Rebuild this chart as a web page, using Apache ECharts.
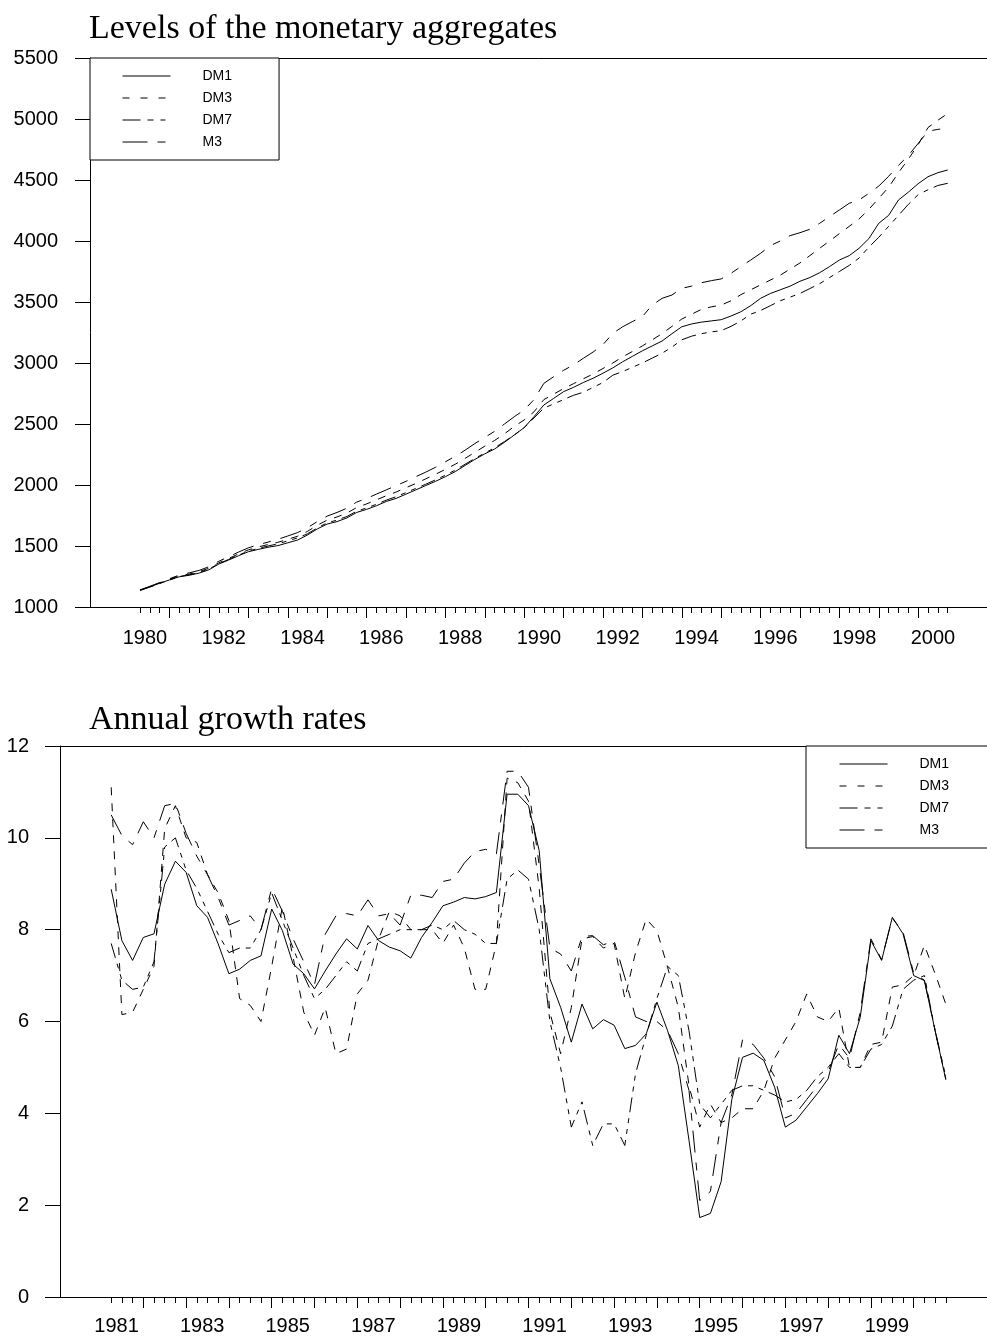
<!DOCTYPE html>
<html>
<head>
<meta charset="utf-8">
<script src="https://cdn.jsdelivr.net/npm/echarts@6/dist/echarts.min.js"></script>
<style>
  html, body { margin: 0; padding: 0; background: #fff; }
  #chart { width: 987px; height: 1338px; }
</style>
</head>
<body>
<div id="chart"></div>
<script>
// Monetary aggregates, quarterly.
const seriesNames = ['DM1', 'DM3', 'DM7', 'M3'];

// Levels, first observation 1980 Q1
const levelStartYear = 1980;
const levelDM1 = [
  1136, 1165, 1195, 1222,  1248, 1260, 1278, 1305,  1352, 1385, 1420, 1453,
  1472, 1490, 1503, 1526,  1549, 1590, 1640, 1680,  1700, 1730, 1775, 1800,
  1830, 1865, 1890, 1925,  1960, 1995, 2030, 2068,  2110, 2160, 2210, 2255,
  2295, 2350, 2410, 2470,  2560, 2656, 2710, 2765,  2800, 2840, 2875, 2916,
  2960, 3010, 3055, 3100,  3140, 3180, 3240, 3297,  3320, 3335, 3345, 3355,
  3385, 3420, 3470, 3530,  3570, 3600, 3630, 3670,  3700, 3740, 3790, 3844,
  3880, 3940, 4020, 4145,  4210, 4336, 4400, 4470,  4527, 4560, 4582
];
const levelDM3 = [
  1138, 1168, 1198, 1228,  1256, 1270, 1290, 1318,  1362, 1398, 1435, 1468,
  1492, 1512, 1530, 1555,  1580, 1620, 1670, 1712,  1738, 1770, 1815, 1845,
  1878, 1912, 1942, 1978,  2012, 2050, 2088, 2128,  2170, 2218, 2268, 2318,
  2365, 2420, 2480, 2533,  2600, 2700, 2745, 2790,  2830, 2870, 2910, 2955,
  3000, 3050, 3095, 3140,  3190, 3240, 3300, 3360,  3400, 3440, 3460, 3475,
  3510, 3560, 3600, 3640,  3680, 3720, 3770, 3820,  3880, 3940, 4000, 4060,
  4120, 4180, 4260, 4350,  4440, 4560, 4670, 4790,  4930, 4990, 5045
];
const levelDM7 = [
  1136, 1163, 1192, 1222,  1250, 1264, 1282, 1312,  1355, 1390, 1425, 1458,
  1480, 1500, 1518, 1542,  1566, 1600, 1648, 1690,  1712, 1742, 1785, 1812,
  1842, 1876, 1904, 1938,  1972, 2006, 2042, 2080,  2122, 2170, 2218, 2262,
  2305, 2356, 2410, 2470,  2550, 2630, 2665, 2700,  2735, 2760, 2800, 2840,
  2900, 2930, 2965, 3000,  3040, 3080, 3130, 3190,  3220, 3240, 3255, 3265,
  3300, 3345, 3400, 3430,  3470, 3510, 3540, 3570,  3610, 3650, 3700, 3750,
  3800, 3860, 3950, 4030,  4120, 4210, 4300, 4380,  4420, 4455, 4473
];
const levelM3 = [
  1140, 1170, 1200, 1232,  1262, 1280, 1300, 1330,  1375, 1412, 1450, 1485,
  1510, 1532, 1555, 1582,  1610, 1650, 1700, 1745,  1775, 1810, 1860, 1890,
  1925, 1960, 1995, 2030,  2068, 2105, 2145, 2190,  2235, 2285, 2340, 2390,
  2440, 2500, 2560, 2615,  2700, 2833, 2888, 2940,  2984, 3038, 3090, 3150,
  3243, 3297, 3340, 3380,  3475, 3530, 3557, 3612,  3630, 3658, 3675, 3689,
  3735, 3790, 3844, 3899,  3962, 4000, 4044, 4068,  4096, 4145, 4200, 4254,
  4309, 4336, 4391, 4450,  4530, 4620, 4700, 4800,  4900, 4915, 4925
];

// Annual growth rates (%), first observation 1981 Q1
const growthStartYear = 1981;
const growthDM1 = [
  8.88, 7.76, 7.33, 7.83, 7.91, 8.99, 9.49, 9.25, 8.52, 8.27,
  7.69, 7.04, 7.14, 7.33, 7.43, 8.45, 7.98, 7.25, 7.04, 6.71,
  7.10, 7.47, 7.80, 7.58, 8.09, 7.76, 7.62, 7.54, 7.38, 7.83,
  8.16, 8.52, 8.60, 8.70, 8.67, 8.72, 8.81, 10.95, 10.95, 10.70,
  9.72, 6.93, 6.31, 5.55, 6.38, 5.84, 6.04, 5.92, 5.41, 5.48,
  5.73, 6.42, 5.80, 5.04, 3.41, 1.73, 1.82, 2.51, 4.30, 5.22,
  5.31, 5.15, 4.57, 3.70, 3.85, 4.14, 4.43, 4.75, 5.70, 5.30,
  6.09, 7.76, 7.33, 8.27, 7.91, 7.00, 6.89, 5.80, 4.73
];
const growthDM3 = [
  11.1, 6.15, 6.2, 6.7, 7.2, 10.2, 10.7, 10.0, 9.9, 9.2,
  8.8, 8.2, 6.5, 6.35, 6.0, 7.2, 8.5, 7.4, 6.2, 5.7,
  6.3, 5.3, 5.4, 6.6, 6.9, 7.8, 8.4, 8.3, 8.0, 8.0,
  8.0, 7.7, 8.1, 7.6, 6.7, 6.7, 7.7, 11.3, 11.2, 10.8,
  8.9, 6.2, 5.3, 6.3, 7.8, 7.85, 7.6, 7.7, 6.5, 7.5,
  8.23, 7.98, 7.18, 6.31, 4.6, 3.7, 4.2, 3.8, 3.9, 4.1,
  4.1, 4.5, 5.2, 5.6, 6.0, 6.6, 6.1, 6.0, 6.3, 5.0,
  5.0, 5.5, 5.55, 6.75, 6.8, 7.0, 7.66, 7.04, 6.38
];
const growthDM7 = [
  7.7, 6.9, 6.7, 6.75, 7.3, 9.8, 10.0, 9.3, 8.9, 8.4,
  7.9, 7.5, 7.6, 7.6, 8.0, 8.8, 8.2, 7.6, 7.0, 6.5,
  6.7, 7.0, 7.3, 7.1, 7.7, 7.8, 7.9, 8.0, 8.0, 8.0,
  8.1, 8.0, 8.2, 8.0, 7.9, 7.7, 7.7, 9.1, 9.3, 9.1,
  8.0, 6.0, 5.0, 3.7, 4.25, 3.3, 3.77, 3.77, 3.3, 4.86,
  5.7, 6.5, 7.2, 7.0, 5.8, 4.2, 3.9, 4.2, 4.5, 4.6,
  4.6, 4.5, 4.4, 4.25, 4.3, 4.5, 4.8, 5.0, 5.3, 5.0,
  5.0, 5.4, 5.5, 5.9, 6.7, 6.9, 7.0, 5.8, 4.8
];
const growthM3 = [
  10.5, 10.05, 9.85, 10.35, 10.0, 10.7, 10.75, 10.1, 9.6, 9.2,
  8.7, 8.1, 8.2, 8.3, 8.0, 8.9, 8.4, 7.8, 7.3, 6.8,
  7.9, 8.3, 8.35, 8.3, 8.65, 8.3, 8.35, 8.1, 8.75, 8.75,
  8.7, 9.05, 9.1, 9.45, 9.7, 9.75, 9.65, 11.45, 11.45, 11.1,
  9.4, 7.6, 7.47, 7.1, 7.85, 7.87, 7.67, 7.76, 6.96, 6.1,
  6.0, 6.0, 5.8, 5.3, 4.5, 2.1, 2.3, 3.8, 4.4, 5.6,
  5.5, 5.2, 4.8, 3.9, 4.0, 4.3, 4.6, 4.9, 5.5, 5.2,
  6.2, 7.8, 7.35, 8.25, 7.95, 7.05, 6.9, 5.8, 4.75
];

// Year labels on the two time axes
const levelYearLabels = [1980, 1982, 1984, 1986, 1988, 1990, 1992, 1994, 1996, 1998, 2000];
const growthYearLabels = [1981, 1983, 1985, 1987, 1989, 1991, 1993, 1995, 1997, 1999];

// Value axes
const levelAxis = { min: 1000, max: 5500, step: 500 };
const growthAxis = { min: 0, max: 12, step: 2 };

const titles = ['Levels of the monetary aggregates', 'Annual growth rates'];

// ---------------------------------------------------------------
const INK = '#000';
const SANS = 'Liberation Sans, Arial, sans-serif';
const SERIF = 'Liberation Serif, Times New Roman, serif';

// dash patterns of the plotted lines
const dashes = {
  DM1: 'solid',
  DM3: [8, 8],
  DM7: [15, 6, 5, 6, 5, 6],
  M3: [22, 10, 8, 10]
};
// dash patterns of the short key samples
const keyDashes = {
  DM1: 'solid',
  DM3: [7, 11],
  DM7: [18, 7, 6, 7, 5, 10],
  M3: [25, 10, 8, 10]
};

// decimal time of the i-th quarter after the start year's Q1
const qTime = (startYear, i) => startYear + i / 4;

function toPairs(startYear, values) {
  return values.map((v, i) => [qTime(startYear, i), v]);
}

function quarterTicks(startYear, n) {
  const all = [], yearEnds = [];
  for (let i = 0; i < n; i++) {
    all.push(qTime(startYear, i));
    if (i % 4 === 3) yearEnds.push(qTime(startYear, i));
  }
  return { all, yearEnds };
}

function timeAxes(gridIndex, startYear, n, range, labelYears, labelMargin) {
  const t = quarterTicks(startYear, n);
  const base = {
    type: 'value', gridIndex, min: range[0], max: range[1],
    splitLine: { show: false }, silent: true
  };
  return [
    Object.assign({}, base, {
      position: 'bottom',
      axisLine: { show: true, onZero: false, lineStyle: { color: INK, width: 1 } },
      axisTick: { show: true, inside: false, length: 6, customValues: t.all,
                  lineStyle: { color: INK, width: 1 } },
      axisLabel: { show: true, customValues: labelYears.map(y => y + 0.125),
                   formatter: v => String(Math.floor(v)), margin: labelMargin,
                   color: INK, fontFamily: SANS, fontSize: 20 }
    }),
    Object.assign({}, base, {
      position: 'bottom',
      axisLine: { show: false, onZero: false },
      axisTick: { show: true, inside: false, length: 11, customValues: t.yearEnds,
                  lineStyle: { color: INK, width: 1 } },
      axisLabel: { show: false }
    }),
    Object.assign({}, base, {
      position: 'top',
      axisLine: { show: true, onZero: false, lineStyle: { color: INK, width: 1 } },
      axisTick: { show: false },
      axisLabel: { show: false }
    })
  ];
}

function valueAxis(gridIndex, spec, margin) {
  return {
    type: 'value', gridIndex, min: spec.min, max: spec.max, interval: spec.step,
    position: 'left', silent: true,
    axisLine: { show: true, onZero: false, lineStyle: { color: INK, width: 1 } },
    axisTick: { show: true, inside: false, length: 15, lineStyle: { color: INK, width: 1 } },
    axisLabel: { margin, color: INK, fontFamily: SANS, fontSize: 20,
                 formatter: v => String(v) },
    splitLine: { show: false }
  };
}

function lineSeries(name, axisIndex, data) {
  return {
    name, type: 'line', xAxisIndex: axisIndex * 3, yAxisIndex: axisIndex,
    data, symbol: 'none', showSymbol: false, smooth: false,
    lineStyle: { color: INK, width: 1, type: dashes[name] },
    itemStyle: { color: INK },
    emphasis: { disabled: true }, silent: true, animation: false
  };
}

function legendBox(left, top, padding) {
  return {
    data: seriesNames.map(n => ({
      name: n,
      lineStyle: { color: INK, width: 1, type: keyDashes[n] }
    })),
    orient: 'vertical', left, top, padding,
    itemWidth: 48, itemHeight: 14, itemGap: 8,
    borderColor: INK, borderWidth: 1, backgroundColor: '#fff',
    selectedMode: false,
    itemStyle: { opacity: 0, borderWidth: 0 },
    textStyle: { color: INK, fontFamily: SANS, fontSize: 14, padding: [0, 0, 0, 27] }
  };
}

const chart = echarts.init(document.getElementById('chart'), null, { renderer: 'canvas' });

const levelSets = { DM1: levelDM1, DM3: levelDM3, DM7: levelDM7, M3: levelM3 };
const growthSets = { DM1: growthDM1, DM3: growthDM3, DM7: growthDM7, M3: growthM3 };

chart.setOption({
  animation: false,
  backgroundColor: '#fff',
  title: [
    { text: titles[0], left: 84, top: 7,
      textStyle: { fontFamily: SERIF, fontSize: 34, fontWeight: 'normal', color: INK } },
    { text: titles[1], left: 84, top: 698,
      textStyle: { fontFamily: SERIF, fontSize: 34, fontWeight: 'normal', color: INK } }
  ],
  grid: [
    { left: 90, top: 58, right: -5, height: 549, outerBoundsMode: 'none', containLabel: false },
    { left: 60, top: 746, right: -5, height: 551, outerBoundsMode: 'none', containLabel: false }
  ],
  xAxis: [
    ...timeAxes(0, levelStartYear, levelDM1.length, [1978.731, 2001.624], levelYearLabels, 21),
    ...timeAxes(1, growthStartYear, growthDM1.length, [1979.804, 2001.579], growthYearLabels, 19)
  ],
  yAxis: [
    valueAxis(0, levelAxis, 32),
    valueAxis(1, growthAxis, 31)
  ],
  legend: [
    legendBox(90, 58, [11, 47, 11, 32]),
    legendBox(806, 746, [11, 60, 11, 33])
  ],
  series: [
    ...seriesNames.map(n => lineSeries(n, 0, toPairs(levelStartYear, levelSets[n]))),
    ...seriesNames.map(n => lineSeries(n, 1, toPairs(growthStartYear, growthSets[n])))
  ]
});
</script>
</body>
</html>
